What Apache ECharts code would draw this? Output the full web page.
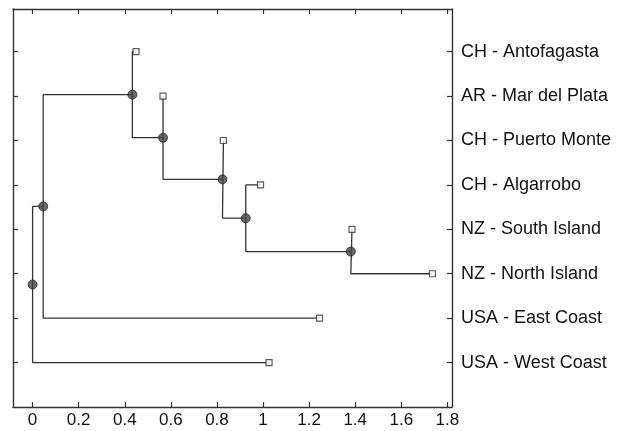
<!DOCTYPE html>
<html>
<head>
<meta charset="utf-8">
<script src="https://cdn.jsdelivr.net/npm/echarts@6/dist/echarts.min.js"></script>
<style>html,body{margin:0;padding:0;background:#fff}#c{width:623px;height:431px}</style>
</head>
<body>
<div id="c"></div>
<script>
// Leaves, listed from bottom (row 1) to top (row 8)
const leafNames = ["USA - West Coast", "USA - East Coast", "NZ - North Island", "NZ - South Island",
                   "CH - Algarrobo", "CH - Puerto Monte", "AR - Mar del Plata", "CH - Antofagasta"];
const leafDist = [1.026, 1.245, 1.735, 1.386, 0.989, 0.828, 0.566, 0.449];

// Internal nodes (distance from root) and their two children (upper child first)
const nodeNames = ["E", "D", "C", "B", "A", "F", "G"];
const nodeDist = [1.381, 0.925, 0.824, 0.566, 0.433, 0.046, 0.0];
const nodeChildren = [
  ["NZ - South Island", "NZ - North Island"],
  ["CH - Algarrobo", "E"],
  ["CH - Puerto Monte", "D"],
  ["AR - Mar del Plata", "C"],
  ["CH - Antofagasta", "B"],
  ["A", "USA - East Coast"],
  ["F", "USA - West Coast"]
];

const xTicks = [0, 0.2, 0.4, 0.6, 0.8, 1, 1.2, 1.4, 1.6, 1.8];

// dendrogram layout: leaf rows, internal node at mid-height of children
const pos = {};
leafNames.forEach((n, i) => { pos[n] = [leafDist[i], i + 1]; });
nodeNames.forEach((n, i) => {
  const [a, b] = nodeChildren[i];
  pos[n] = [nodeDist[i], (pos[a][1] + pos[b][1]) / 2];
});

const LINE = '#333';
const series = [];
nodeNames.forEach((n, i) => {
  const [a, b] = nodeChildren[i];
  const x = pos[n][0];
  series.push({
    type: 'line', silent: true, symbol: 'none', animation: false,
    lineStyle: { color: LINE, width: 1.3 },
    data: [[pos[a][0], pos[a][1]], [x, pos[a][1]], [x, pos[b][1]], [pos[b][0], pos[b][1]]],
    z: 2
  });
});
series.push({
  type: 'scatter', silent: true, animation: false, symbol: 'rect', symbolSize: 6,
  itemStyle: { color: '#fff', borderColor: '#333', borderWidth: 1.2 },
  data: leafNames.map(n => pos[n]), z: 4
});
series.push({
  type: 'scatter', silent: true, animation: false, symbol: 'circle', symbolSize: 9,
  itemStyle: { color: '#444', borderColor: '#2a2a2a', borderWidth: 1 },
  data: nodeNames.map(n => pos[n]), z: 5
});

const FONT = 'Liberation Sans, Arial, Helvetica, sans-serif';
const isTick = v => xTicks.some(t => Math.abs(t - v) < 1e-6);
const axisLine = { show: true, onZero: false, lineStyle: { color: '#333', width: 1.4 } };
const tick = { show: true, inside: true, length: 5, lineStyle: { color: '#333', width: 1.2 } };
const XMIN = -0.085, XMAX = 1.82;

const chart = echarts.init(document.getElementById('c'), null, { renderer: 'canvas' });
chart.setOption({
  animation: false,
  backgroundColor: '#fff',
  grid: { left: 13, right: 171, top: 9, bottom: 24 },
  xAxis: [
    { type: 'value', position: 'bottom', min: XMIN, max: XMAX, splitNumber: 9,
      axisLine, axisTick: Object.assign({}, tick, { customValues: xTicks }), splitLine: { show: false },
      axisLabel: { customValues: xTicks, margin: 5, color: '#111', fontSize: 17, fontFamily: FONT,
        formatter: v => isTick(v) ? String(+v.toFixed(1)) : '' } },
    { type: 'value', position: 'top', min: XMIN, max: XMAX, splitNumber: 9,
      axisLine, axisTick: Object.assign({}, tick, { customValues: xTicks }), splitLine: { show: false },
      axisLabel: { show: false } }
  ],
  yAxis: [
    { type: 'value', position: 'right', min: 0, max: 8.96, interval: 1,
      axisLine, axisTick: Object.assign({}, tick, { customValues: [1,2,3,4,5,6,7,8] }), splitLine: { show: false },
      axisLabel: { margin: 9, color: '#111', fontSize: 18, fontFamily: FONT,
        formatter: v => (Number.isInteger(v) && v >= 1 && v <= leafNames.length) ? leafNames[v - 1] : '' } },
    { type: 'value', position: 'left', min: 0, max: 8.96, interval: 1,
      axisLine, axisTick: Object.assign({}, tick, { customValues: [1,2,3,4,5,6,7,8] }), splitLine: { show: false }, axisLabel: { show: false } }
  ],
  series
});
</script>
</body>
</html>
